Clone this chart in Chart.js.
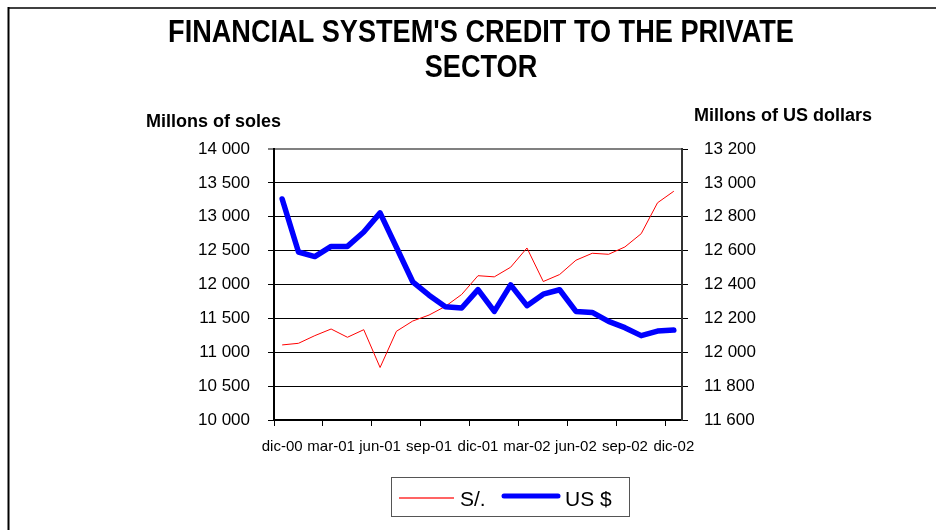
<!DOCTYPE html>
<html>
<head>
<meta charset="utf-8">
<script src="https://cdn.jsdelivr.net/npm/chart.js@4.4.1/dist/chart.umd.min.js"></script>
<style>
  html, body { margin: 0; padding: 0; background: #ffffff; }
  #wrap { position: relative; width: 936px; height: 530px; }
  canvas { display: block; }
</style>
</head>
<body>
<div id="wrap"><canvas id="c" width="936" height="530"></canvas></div>
<script>
// ---- Data ----
const months = ["dic-00","ene-01","feb-01","mar-01","abr-01","may-01","jun-01","jul-01","ago-01","sep-01","oct-01","nov-01",
                "dic-01","ene-02","feb-02","mar-02","abr-02","may-02","jun-02","jul-02","ago-02","sep-02","oct-02","nov-02","dic-02"];
const solesValues = [11108, 11132, 11245, 11343, 11221, 11333, 10775, 11309, 11461, 11549, 11677, 11853,
                     12130, 12113, 12255, 12539, 12044, 12147, 12358, 12461, 12446, 12554, 12750, 13206, 13377];
const usdValues = [12905, 12592, 12565, 12625, 12625, 12710, 12823, 12620, 12416, 12337, 12269, 12261,
                   12370, 12241, 12398, 12275, 12343, 12369, 12241, 12235, 12182, 12145, 12098, 12125, 12131];
const seriesNames = ["S/.", "US $"];
const titleLines = ["FINANCIAL SYSTEM'S CREDIT TO THE PRIVATE", "SECTOR"];
const leftAxisTitle = "Millons of soles";
const rightAxisTitle = "Millons of US dollars";

const FONT = '"Liberation Sans", Arial, Helvetica, sans-serif';
const fmt = v => String(v).replace(/\B(?=(\d{3})+(?!\d))/g, ' ');

const decorPlugin = {
  id: 'decor',
  afterDraw(chart) {
    const ctx = chart.ctx;
    ctx.save();
    // outer frame (top and left edges)
    ctx.strokeStyle = '#404040';
    ctx.lineWidth = 2;
    ctx.beginPath(); ctx.moveTo(8, 8); ctx.lineTo(936, 8); ctx.stroke();
    ctx.strokeStyle = '#000000';
    ctx.beginPath(); ctx.moveTo(8.5, 7); ctx.lineTo(8.5, 530); ctx.stroke();

    // title (condensed bold)
    ctx.fillStyle = '#000000';
    ctx.textAlign = 'center';
    ctx.textBaseline = 'middle';
    ctx.font = 'bold 31px ' + FONT;
    titleLines.forEach((t, i) => {
      ctx.save();
      ctx.translate(481, 33 + i * 35);
      ctx.scale(0.875, 1);
      ctx.fillText(t, 0, 0);
      ctx.restore();
    });

    // axis titles
    ctx.font = 'bold 18px ' + FONT;
    ctx.textAlign = 'left';
    ctx.fillText(leftAxisTitle, 146, 122);
    ctx.fillText(rightAxisTitle, 694, 116);

    // legend box
    ctx.strokeStyle = '#555555';
    ctx.lineWidth = 1;
    ctx.strokeRect(391.5, 477.5, 238, 39);
    ctx.strokeStyle = '#ff3030';
    ctx.lineWidth = 1.3;
    ctx.beginPath(); ctx.moveTo(399, 498); ctx.lineTo(454, 498); ctx.stroke();
    ctx.strokeStyle = '#0000ff';
    ctx.lineWidth = 5;
    ctx.lineCap = 'round';
    ctx.beginPath(); ctx.moveTo(504, 496); ctx.lineTo(558, 496); ctx.stroke();
    ctx.font = '21px ' + FONT;
    ctx.fillStyle = '#000000';
    ctx.textBaseline = 'alphabetic';
    ctx.fillText(seriesNames[0], 460, 506);
    ctx.fillText(seriesNames[1], 565, 506);
    ctx.restore();
  }
};

new Chart(document.getElementById('c'), {
  type: 'line',
  data: {
    labels: months,
    datasets: [
      {
        label: seriesNames[0],
        data: solesValues,
        yAxisID: 'yL',
        borderColor: '#ff0000',
        borderWidth: 1,
        pointRadius: 0,
        tension: 0,
        order: 2
      },
      {
        label: seriesNames[1],
        data: usdValues,
        yAxisID: 'yR',
        borderColor: '#0000ff',
        borderWidth: 5.5,
        pointRadius: 0,
        tension: 0,
        borderJoinStyle: 'round',
        borderCapStyle: 'round',
        order: 1
      }
    ]
  },
  options: {
    responsive: false,
    animation: false,
    devicePixelRatio: 1,
    layout: { padding: { top: 149, left: 0, right: 0, bottom: 0 } },
    plugins: { legend: { display: false }, title: { display: false }, tooltip: { enabled: false } },
    scales: {
      x: {
        type: 'category',
        offset: true,
        afterFit(s) { s.height = 110; },
        grid: {
          offset: true,
          drawOnChartArea: false,
          drawTicks: true,
          tickLength: 6,
          color: c => (c.index % 3 === 0 ? '#000000' : 'rgba(0,0,0,0)'),
          lineWidth: 1
        },
        border: { display: true, color: '#000000', width: 2 },
        ticks: {
          autoSkip: false,
          maxRotation: 0,
          minRotation: 0,
          padding: 12,
          color: '#000000',
          font: { family: FONT, size: 15 },
          callback(v, i) { return i % 3 === 0 ? months[i] : ''; }
        }
      },
      yL: {
        position: 'left',
        min: 10000,
        max: 14000,
        afterFit(s) { s.width = 274; },
        grid: {
          drawTicks: true,
          tickLength: 6,
          color: c => (c.tick && c.tick.value === 14000 ? '#808080' : '#000000'),
          lineWidth: c => (c.tick && c.tick.value === 14000 ? 2 : 1)
        },
        border: { display: true, color: '#000000', width: 2 },
        ticks: {
          stepSize: 500,
          padding: 18,
          color: '#000000',
          font: { family: FONT, size: 17 },
          callback: v => fmt(v)
        }
      },
      yR: {
        position: 'right',
        min: 11600,
        max: 13200,
        afterFit(s) { s.width = 254; },
        grid: {
          drawOnChartArea: false,
          drawTicks: true,
          tickLength: 6,
          color: '#000000'
        },
        border: { display: true, color: '#333333', width: 2 },
        ticks: {
          stepSize: 200,
          padding: 16,
          color: '#000000',
          font: { family: FONT, size: 17 },
          callback: v => fmt(v)
        }
      }
    }
  },
  plugins: [decorPlugin]
});
</script>
</body>
</html>
